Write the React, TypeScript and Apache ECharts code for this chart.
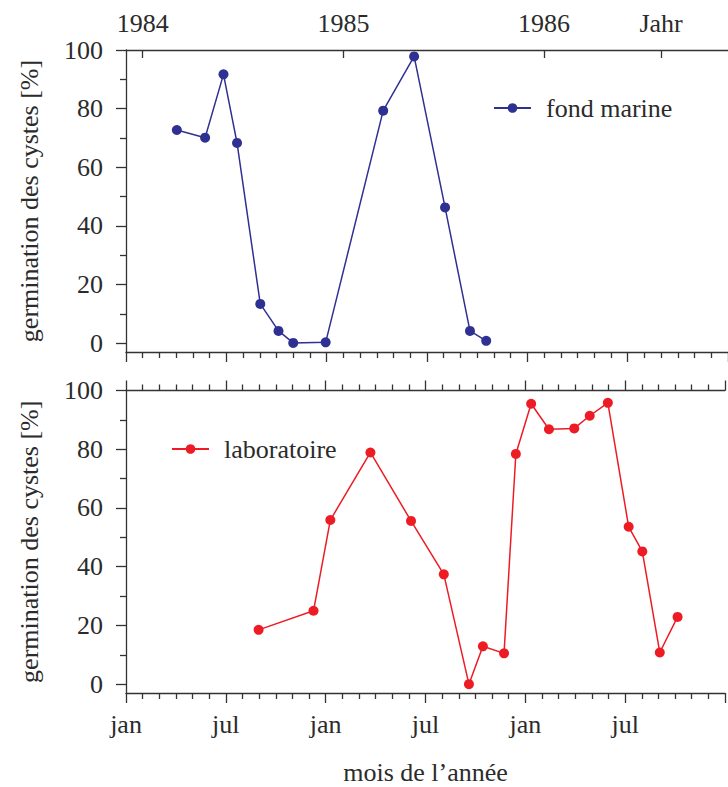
import React, { useEffect, useRef } from "react";
import * as echarts from "echarts";

// months counted from Jan 1984 (0 = start of Jan 1984)
const marineMonths = [3.04, 4.73, 5.83, 6.64, 8.03, 9.12, 10.0, 11.94, 15.38, 17.23, 19.08, 20.57, 21.54];
const marineValues = [72.7, 70.1, 91.7, 68.3, 13.4, 4.2, 0.1, 0.3, 79.3, 97.8, 46.3, 4.2, 0.8];

const laboMonths = [7.97, 11.27, 12.28, 14.69, 17.13, 19.1, 20.61, 21.45, 22.72, 23.43, 24.35, 25.42, 26.94, 27.87, 28.96, 30.21, 31.03, 32.08, 33.15];
const laboValues = [18.5, 25.0, 55.9, 78.9, 55.6, 37.4, 0, 12.9, 10.5, 78.4, 95.5, 86.8, 87.1, 91.4, 95.8, 53.6, 45.2, 10.8, 22.9];

const yearTickMonths = [1, 13, 25, 32];
const yearTickLabels = ["1984", "1985", "1986", "Jahr"];
const yTickValues = [0, 20, 40, 60, 80, 100];
const yMinorValues = [10, 30, 50, 70, 90];

const FONT = "Liberation Serif";
const FS = 26;
const TXT = "#2b2b2b";
const AX = "#333333";
const BLUE = "#2e3192";
const RED = "#ed1c24";

export default function App() {
  const ref = useRef<HTMLDivElement>(null);
  useEffect(() => {
    if (!ref.current) return;
    const chart = echarts.init(ref.current, undefined, { renderer: "svg" });
    const lineStyle = { color: AX, width: 1.3 };
    const baseX = (grid: number, position: "top" | "bottom") => ({
      type: "value" as const,
      gridIndex: grid,
      position,
      min: 0,
      max: 36,
      interval: 6,
      axisLine: { show: true, onZero: false, lineStyle },
      axisTick: { show: true, length: 10, lineStyle },
      minorTick: { show: true, splitNumber: 6, length: 6, lineStyle },
      axisLabel: { show: false },
      splitLine: { show: false },
      minorSplitLine: { show: false },
    });
    const mainY = (grid: number, name: string) => ({
      type: "value" as const,
      gridIndex: grid,
      min: -3,
      max: 100,
      position: "left" as const,
      name,
      nameLocation: "middle" as const,
      nameGap: 84,
      nameRotate: 90,
      nameTextStyle: { fontFamily: FONT, fontSize: FS, color: TXT },
      axisLine: { show: true, onZero: false, lineStyle },
      axisTick: { show: true, length: 10, customValues: yTickValues, lineStyle },
      axisLabel: { show: true, customValues: yTickValues, margin: 23, fontFamily: FONT, fontSize: FS, color: TXT },
      splitLine: { show: false },
    });
    const minorY = (grid: number) => ({
      type: "value" as const,
      gridIndex: grid,
      min: -3,
      max: 100,
      position: "left" as const,
      axisLine: { show: false },
      axisTick: { show: true, length: 6, customValues: yMinorValues, lineStyle },
      axisLabel: { show: false },
      splitLine: { show: false },
    });

    const option: any = {
      animation: false,
      backgroundColor: "#ffffff",
      grid: [
        { left: 126, right: -2, top: 50, height: 302 },
        { left: 126, right: -2, top: 390.5, height: 302.5 },
      ],
      legend: [
        {
          data: ["fond marine"],
          left: 488,
          top: 90,
          itemWidth: 37,
          itemHeight: 12,
          textStyle: { fontFamily: FONT, fontSize: FS, color: TXT, padding: [0, 0, 0, 10] },
        },
        {
          data: ["laboratoire"],
          left: 166,
          top: 431,
          itemWidth: 37,
          itemHeight: 12,
          textStyle: { fontFamily: FONT, fontSize: FS, color: TXT, padding: [0, 0, 0, 10] },
        },
      ],
      xAxis: [
        baseX(0, "bottom"),
        {
          type: "value",
          gridIndex: 0,
          position: "top",
          min: 0,
          max: 36,
          axisLine: { show: true, onZero: false, lineStyle },
          axisTick: { show: true, inside: true, length: 8, customValues: yearTickMonths, lineStyle },
          axisLabel: {
            show: true,
            customValues: yearTickMonths,
            margin: 14,
            fontFamily: FONT,
            fontSize: FS,
            color: TXT,
            formatter: (v: number) => {
              const i = yearTickMonths.indexOf(v);
              return i >= 0 ? yearTickLabels[i] : "";
            },
          },
          splitLine: { show: false },
        },
        baseX(1, "top"),
        {
          ...baseX(1, "bottom"),
          name: "mois de l’année",
          nameLocation: "middle",
          nameGap: 66,
          nameTextStyle: { fontFamily: FONT, fontSize: FS, color: TXT },
          axisLabel: {
            show: true,
            margin: 18,
            fontFamily: FONT,
            fontSize: FS,
            color: TXT,
            formatter: (v: number) => (v >= 36 ? "" : v % 12 === 0 ? "jan" : "jul"),
          },
        },
      ],
      yAxis: [
        mainY(0, "germination des cystes [%]"),
        minorY(0),
        mainY(1, "germination des cystes [%]"),
        minorY(1),
      ],
      series: [
        {
          name: "fond marine",
          type: "line",
          xAxisIndex: 0,
          yAxisIndex: 0,
          data: marineMonths.map((m, i) => [m, marineValues[i]]),
          symbol: "circle",
          symbolSize: 10,
          color: BLUE,
          lineStyle: { color: BLUE, width: 1.5 },
          itemStyle: { color: BLUE },
        },
        {
          name: "laboratoire",
          type: "line",
          xAxisIndex: 3,
          yAxisIndex: 2,
          data: laboMonths.map((m, i) => [m, laboValues[i]]),
          symbol: "circle",
          symbolSize: 10,
          color: RED,
          lineStyle: { color: RED, width: 1.5 },
          itemStyle: { color: RED },
        },
      ],
    };
    chart.setOption(option);
    return () => chart.dispose();
  }, []);
  return (
    <div
      ref={ref}
      style={{ position: "fixed", left: 0, top: 0, width: 728, height: 787, background: "#fff" }}
    />
  );
}
